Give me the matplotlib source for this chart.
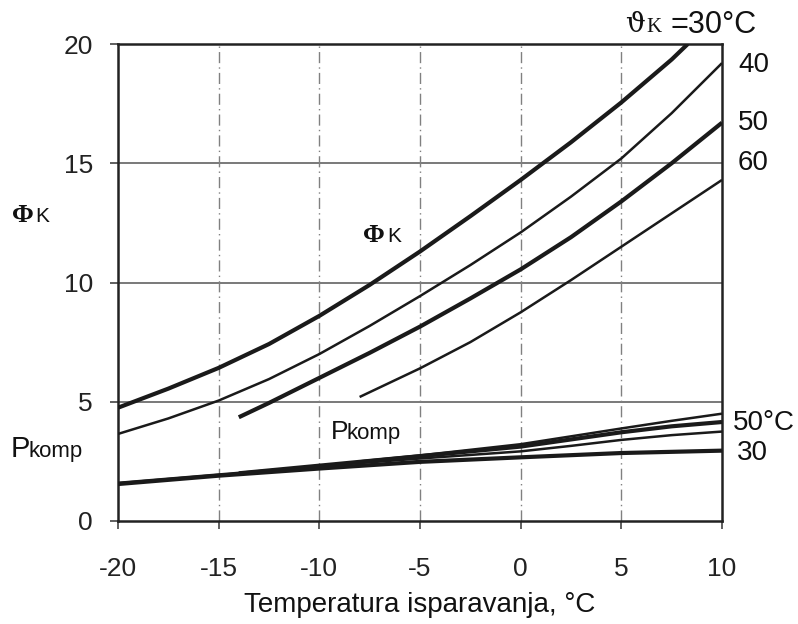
import matplotlib
matplotlib.use("Agg")
import matplotlib.pyplot as plt

# ---- data ----
phi30_x = [-20, -17.5, -15, -12.5, -10, -7.5, -5, -2.5, 0, 2.5, 5, 7.5, 8.3]
phi30_y = [4.75, 5.55, 6.42, 7.42, 8.6, 9.9, 11.3, 12.78, 14.3, 15.88, 17.55, 19.35, 20.0]
phi40_x = [-20, -17.5, -15, -12.5, -10, -7.5, -5, -2.5, 0, 2.5, 5, 7.5, 10]
phi40_y = [3.65, 4.3, 5.05, 5.95, 7.0, 8.18, 9.43, 10.73, 12.1, 13.6, 15.2, 17.1, 19.2]
phi50_x = [-14, -12.5, -10, -7.5, -5, -2.5, 0, 2.5, 5, 7.5, 10]
phi50_y = [4.35, 4.95, 6.0, 7.05, 8.15, 9.33, 10.55, 11.9, 13.4, 15.0, 16.7]
phi60_x = [-8, -5, -2.5, 0, 2.5, 5, 7.5, 10]
phi60_y = [5.2, 6.4, 7.5, 8.75, 10.1, 11.5, 12.9, 14.3]

p30_x = [-20, -15, -10, -5, 0, 5, 10]
p30_y = [1.55, 1.9, 2.2, 2.48, 2.67, 2.85, 2.95]
p40_x = [-20, -15, -10, -5, 0, 2.5, 5, 7.5, 10]
p40_y = [1.6, 1.95, 2.3, 2.62, 2.92, 3.15, 3.4, 3.6, 3.75]
p50_x = [-14, -10, -5, 0, 2.5, 5, 7.5, 10]
p50_y = [2.0, 2.32, 2.72, 3.12, 3.42, 3.72, 3.97, 4.15]
p60_x = [-8, -5, 0, 2.5, 5, 7.5, 10]
p60_y = [2.5, 2.75, 3.22, 3.55, 3.88, 4.2, 4.5]

xticks = [-20, -15, -10, -5, 0, 5, 10]
yticks = [0, 5, 10, 15, 20]

W, H = 798, 624
fig = plt.figure(figsize=(W / 100, H / 100), dpi=100)
ax = fig.add_axes([118 / W, 1 - 521 / H, (722 - 118) / W, (521 - 44) / H])

lw_thick, lw_thin = 3.0, 1.8
for xs, ys, lw in [(phi30_x, phi30_y, lw_thick), (phi40_x, phi40_y, lw_thin),
                   (phi50_x, phi50_y, lw_thick), (phi60_x, phi60_y, lw_thin),
                   (p30_x, p30_y, lw_thick), (p40_x, p40_y, lw_thin),
                   (p50_x, p50_y, lw_thick), (p60_x, p60_y, lw_thin)]:
    ax.plot(xs, ys, color="#1a1a1a", lw=lw, solid_capstyle="butt",
            solid_joinstyle="round", zorder=3)

ax.set_xlim(-20, 10)
ax.set_ylim(0, 20)
ax.set_xticks(xticks)
ax.set_yticks(yticks)
ax.set_xticklabels([str(v) for v in xticks])
ax.set_yticklabels([str(v) for v in yticks])

for v in [5, 10, 15]:
    ax.axhline(v, color="#555555", lw=1.1, zorder=1)
for v in [-15, -10, -5, 0, 5]:
    ax.axvline(v, color="#808080", lw=1.0, ls=(0, (8, 3, 1, 3)), zorder=1)

for s in ax.spines.values():
    s.set_linewidth(1.8)
    s.set_color("#222222")

ax.tick_params(axis="both", direction="out", length=6, width=1.2, color="#444444",
               labelsize=19, labelcolor="#222222")
ax.tick_params(axis="x", pad=20)
ax.tick_params(axis="y", pad=12)
for lab in ax.get_xticklabels() + ax.get_yticklabels():
    lab.set_family("Liberation Sans")

ax.set_xlabel("Temperatura isparavanja, °C", fontsize=20, family="Liberation Sans",
              color="#111111", labelpad=8)

def ftext(px, py, s, **kw):
    fig.text(px / W, 1 - py / H, s, va="baseline", color="#111111", **kw)

sans = "Liberation Sans"
serif = "Liberation Serif"
# top label
ftext(625, 32, "ϑ", fontsize=20, family="DejaVu Serif")
ftext(646, 32, "K", fontsize=15, family=serif)
ftext(671, 33, "=30°C", fontsize=22, family=sans)
ftext(738, 72, "40", fontsize=20, family=sans)
ftext(738, 130, "50", fontsize=20, family=sans)
ftext(738, 170, "60", fontsize=20, family=sans)
ftext(733, 430, "50°C", fontsize=20, family=sans)
ftext(737, 460, "30", fontsize=20, family=sans)

# left labels
ftext(12, 222, "Φ", fontsize=19, family=serif, weight="bold")
ftext(35, 222, "K", fontsize=15, family=sans)
ftext(11, 457, "P", fontsize=21, family=sans)
ftext(28, 457, "komp", fontsize=16, family=sans)

# inner labels
ftext(363, 242, "Φ", fontsize=19, family=serif, weight="bold")
ftext(387, 242, "K", fontsize=15, family=sans)
ftext(331, 439, "P", fontsize=19, family=sans)
ftext(347, 439, "komp", fontsize=16, family=sans)

fig.savefig("out.png", dpi=100, facecolor="white")
